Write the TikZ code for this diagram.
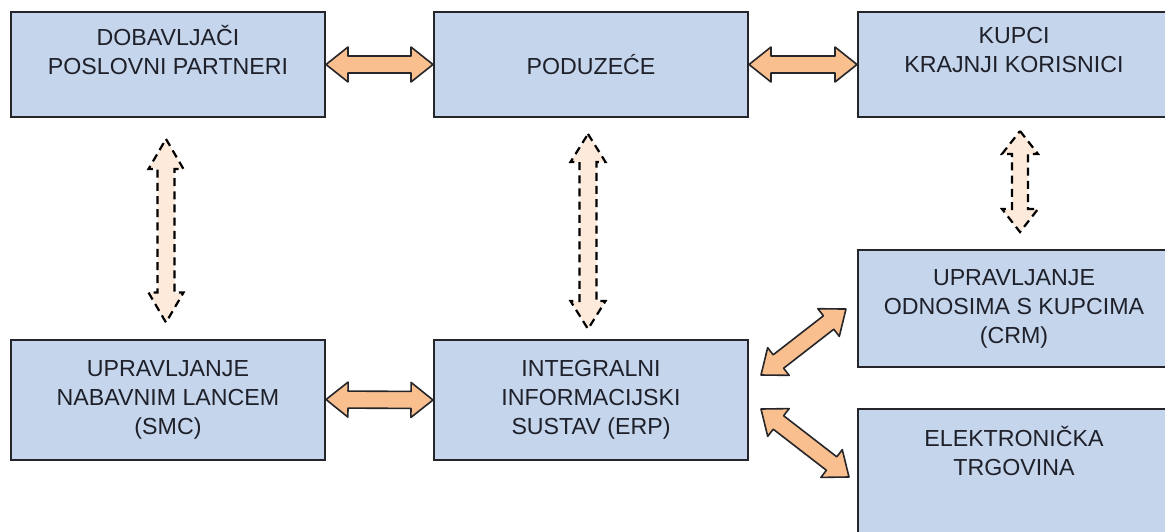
\documentclass[tikz,border=0pt]{standalone}
\usepackage{fontspec}
\setmainfont{Liberation Sans}
\usepackage{xcolor}
\usetikzlibrary{calc}

\definecolor{boxblue}{RGB}{197,213,236}
\definecolor{flowfill}{RGB}{249,191,143}
\definecolor{linkfill}{RGB}{253,234,218}
\definecolor{edge}{RGB}{38,38,42}
\definecolor{ink}{RGB}{30,32,42}

% double-headed block arrow from #2 to #3
\newcommand{\fatarrow}[3][]{%
  \draw[#1] let \p1=(#2), \p2=(#3),
      \n1={veclen(\x2-\x1,\y2-\y1)}, \n2={atan2(\y2-\y1,\x2-\x1)} in
    [shift={(\p1)}, rotate=\n2]
    (0pt,0pt) -- (\arrhead,\arrwide) -- (\arrhead,\arrshaft)
    -- (\n1-\arrhead,\arrshaft) -- (\n1-\arrhead,\arrwide) -- (\n1,0pt)
    -- (\n1-\arrhead,-\arrwide) -- (\n1-\arrhead,-\arrshaft)
    -- (\arrhead,-\arrshaft) -- (\arrhead,-\arrwide) -- cycle;}

\tikzset{
  block/.style={draw=edge, line width=1pt, fill=boxblue, text=ink,
    minimum width=157pt, align=center,
    font=\fontsize{11.6}{14.5}\selectfont},
  flow/.style={draw=edge, line width=0.8pt, fill=flowfill, line join=round},
  link/.style={draw=black, line width=1.1pt, fill=linkfill,
    dash pattern=on 4pt off 2.6pt}
}

\begin{document}
\begin{tikzpicture}[x=0.5pt, y=-0.5pt]
  \useasboundingbox (0,0) rectangle (1165,531);

  % top row
  \node[block, minimum height=52.5pt] (dob) at (168,64.5) {DOBAVLJAČI\\POSLOVNI PARTNERI\\~};
  \node[block, minimum height=52.5pt] (pod) at (591,64.5) {PODUZEĆE};
  \node[block, minimum height=52.5pt, minimum width=156pt] (kup) at (1014,64.5) {KUPCI\\KRAJNJI KORISNICI\\~};

  % lower row
  \node[block, minimum height=60pt] (smc) at (168,399.5) {UPRAVLJANJE\\NABAVNIM LANCEM\\(SMC)};
  \node[block, minimum height=60pt] (erp) at (591,400) {INTEGRALNI\\INFORMACIJSKI\\SUSTAV (ERP)};
  \node[block, minimum height=58.5pt, minimum width=156pt] (crm) at (1014,308.5) {UPRAVLJANJE\\ODNOSIMA S KUPCIMA\\(CRM)};
  \node[block, minimum height=71pt, minimum width=156pt] (ele) at (1014,480) {ELEKTRONIČKA\\TRGOVINA\\~\\~};

  % solid links
  \def\arrhead{11pt}
  \def\arrwide{8.75pt}
  \def\arrshaft{4.25pt}
  \fatarrow[flow]{dob.east}{pod.west}
  \fatarrow[flow]{pod.east}{kup.west}
  \fatarrow[flow]{smc.east}{erp.west}

  \coordinate (c1) at ($(erp.east)+(12,-25)$);
  \coordinate (c2) at ($(crm.west)+(-11,0.5)$);
  \coordinate (e1) at ($(erp.east)+(12,9)$);
  \coordinate (e2) at ($(ele.west)+(-8,-3)$);
  \fatarrow[flow]{c1}{c2}
  \fatarrow[flow]{e1}{e2}

  % dashed links
  \coordinate (d1) at ($(dob.south)+(-2,21)$);
  \coordinate (d2) at ($(smc.north)+(-2,-16)$);
  \coordinate (p1) at ($(pod.south)+(-3,16)$);
  \coordinate (p2) at ($(erp.north)+(-3,-10)$);
  \coordinate (k1) at ($(kup.south)+(6,13)$);
  \coordinate (k2) at ($(crm.north)+(6,-17)$);

  \def\arrhead{15pt}
  \fatarrow[link]{d1}{d2}
  \def\arrhead{14pt}
  \fatarrow[link]{p1}{p2}
  \def\arrhead{11.5pt}
  \def\arrwide{9pt}
  \def\arrshaft{4pt}
  \fatarrow[link]{k1}{k2}
\end{tikzpicture}
\end{document}
